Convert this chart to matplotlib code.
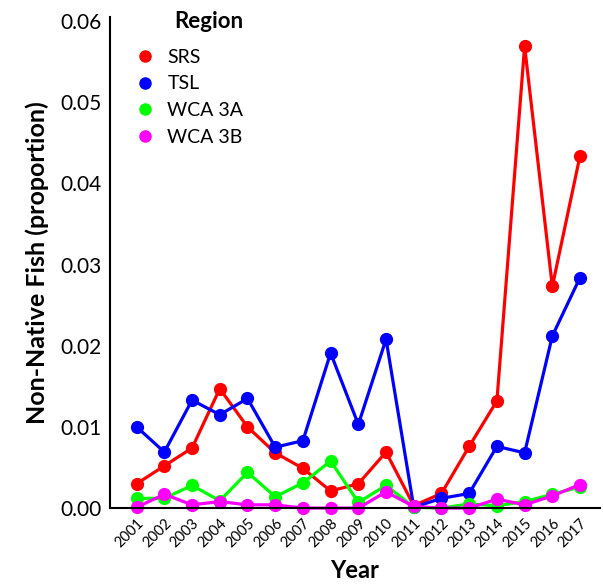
import numpy as np
import matplotlib
matplotlib.use('Agg')
import matplotlib.pyplot as plt

plt.rcParams['font.family'] = ['Lato', 'DejaVu Sans']

# Values
years = list(range(2001, 2018))
srs = [0.0030, 0.0052, 0.0074, 0.0147, 0.0100, 0.0068, 0.0049, 0.0021, 0.0030,
       0.0069, 0.0003, 0.0018, 0.0076, 0.0132, 0.0569, 0.0273, 0.0434]
tsl = [0.0100, 0.0069, 0.0133, 0.0115, 0.0135, 0.0075, 0.0083, 0.0191, 0.0103,
       0.0208, 0.0001, 0.0012, 0.0018, 0.0076, 0.0068, 0.0212, 0.0284]
wca3a = [0.0012, 0.0012, 0.0028, 0.0009, 0.0044, 0.0014, 0.0031, 0.0058, 0.0007,
         0.0028, 0.0001, 0.0000, 0.0005, 0.0003, 0.0008, 0.0017, 0.0026]
wca3b = [0.0001, 0.0017, 0.0004, 0.0008, 0.0004, 0.0004, 0.0000, 0.0000, 0.0000,
         0.0020, 0.0002, 0.0000, 0.0000, 0.0011, 0.0004, 0.0015, 0.0029]

series = [('SRS', srs, '#ff0000'), ('TSL', tsl, '#0000ff'),
          ('WCA 3A', wca3a, '#00ff00'), ('WCA 3B', wca3b, '#ff00ff')]

fig = plt.figure(figsize=(6.03, 5.84), dpi=100)
ax = fig.add_axes([0.182, 0.130, 0.813, 0.841])

for name, vals, col in series:
    ax.plot(years, vals, color=col, lw=2.3, marker='o', ms=8.5, label=name,
            clip_on=False)

ax.set_xlim(2000.03, 2017.72)
ax.set_ylim(0, 0.0605)
ax.set_yticks([0, 0.01, 0.02, 0.03, 0.04, 0.05, 0.06])
ax.set_yticklabels(['0.00', '0.01', '0.02', '0.03', '0.04', '0.05', '0.06'])
ax.set_xticks(years)
ax.set_xticklabels([str(y) for y in years], rotation=45, ha='right',
                   rotation_mode='anchor', fontsize=10.5)
ax.tick_params(axis='y', length=0, labelsize=15, pad=6)
ax.tick_params(axis='x', length=0, pad=6)

for s in ['top', 'right']:
    ax.spines[s].set_visible(False)
for s in ['left', 'bottom']:
    ax.spines[s].set_linewidth(1.5)

ax.set_xlabel('Year', fontsize=17, fontweight='bold', labelpad=6)
ax.set_ylabel('Non-Native Fish (proportion)', fontsize=18, fontweight='bold', labelpad=8)

leg = ax.legend(loc='upper left', bbox_to_anchor=(0.04, 1.028), frameon=False,
                title='Region', fontsize=14, handlelength=0.8, handletextpad=0.75,
                labelspacing=0.5, borderaxespad=0)
for h in leg.legend_handles:
    h.set_linestyle('none')
    h.set_markersize(8)
leg.get_title().set_fontweight('bold')
leg.get_title().set_fontsize(16)
leg._legend_box.align = 'right'
leg._legend_box.sep = 12

fig.savefig('out.png', dpi=100)
